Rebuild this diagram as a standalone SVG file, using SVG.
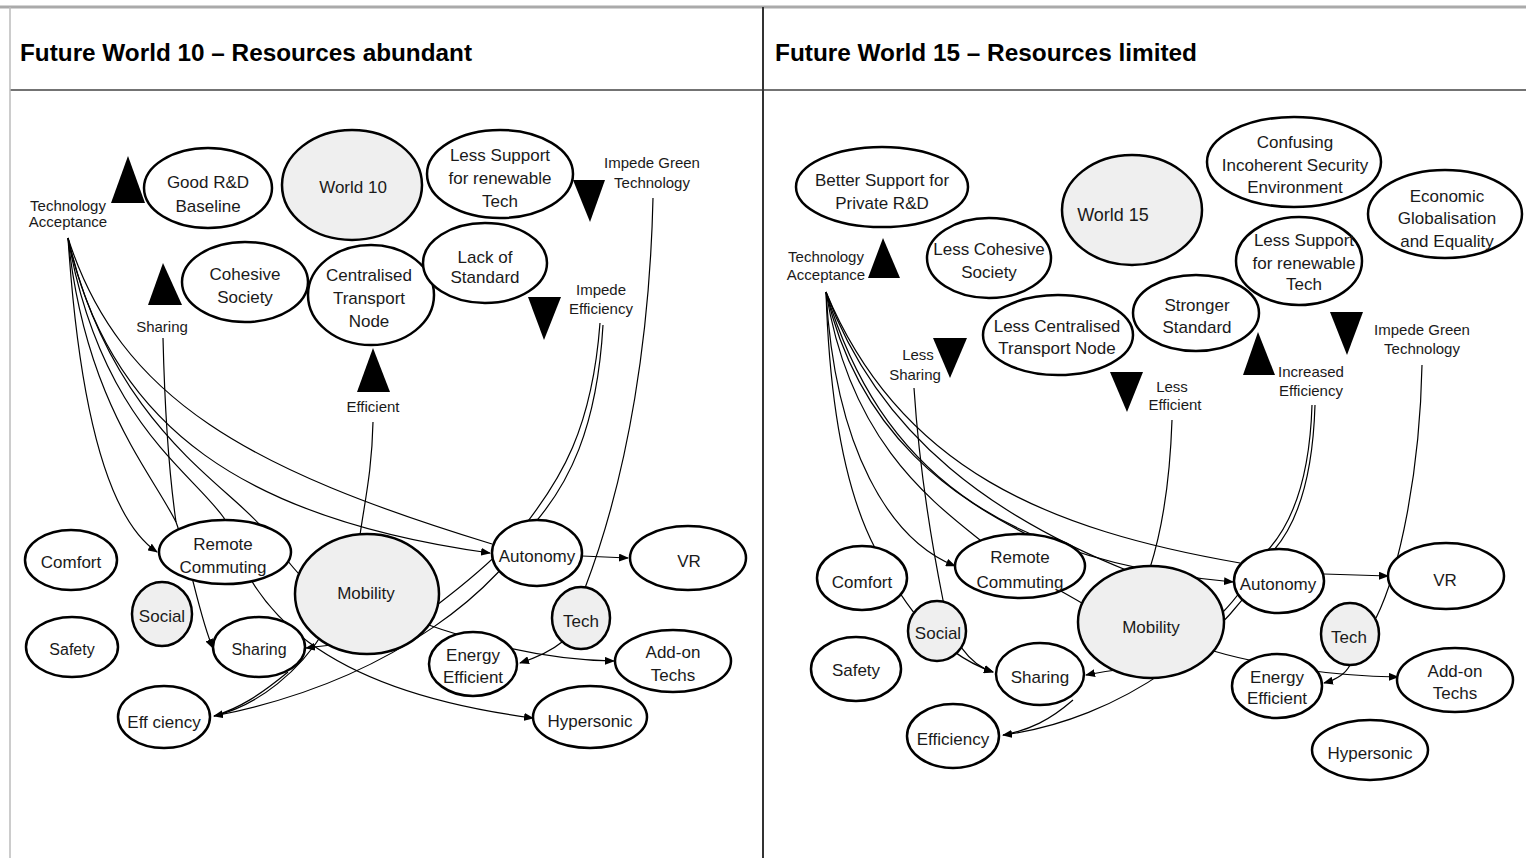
<svg xmlns="http://www.w3.org/2000/svg" width="1526" height="858" viewBox="0 0 1526 858">
<style>
.bg{fill:#fff}
.n{fill:#fff;stroke:#000;stroke-width:2.5}
.g{fill:#efefef;stroke:#000;stroke-width:2.5}
.t{font-family:"Liberation Sans",Arial,sans-serif;font-size:17px;text-anchor:middle;fill:#1a1a1a}
.l{font-family:"Liberation Sans",Arial,sans-serif;font-size:15px;text-anchor:middle;fill:#1a1a1a}
.h{font-family:"Liberation Sans",Arial,sans-serif;font-size:23px;font-weight:bold;fill:#000}
.c{fill:none;stroke:#000;stroke-width:1.2}
.a{marker-end:url(#arr)}
.tri{fill:#000}
</style>
<defs>
<marker id="arr" markerWidth="10" markerHeight="8" refX="9" refY="4" orient="auto" markerUnits="userSpaceOnUse"><path d="M0,0 L10,4 L0,8 z" fill="#000"/></marker>
</defs>
<rect class="bg" x="0" y="0" width="1526" height="858"/>
<g id="frame">
<line x1="0" y1="7" x2="1526" y2="7" stroke="#aaa" stroke-width="3"/>
<line x1="10" y1="90" x2="1526" y2="90" stroke="#444" stroke-width="1.5"/>
<line x1="763" y1="7" x2="763" y2="858" stroke="#333" stroke-width="2"/>
<line x1="10" y1="7" x2="10" y2="858" stroke="#bbb" stroke-width="1.5"/>
<text class="h" x="20" y="61" textLength="452" lengthAdjust="spacingAndGlyphs">Future World 10 – Resources abundant</text>
<text class="h" x="775" y="61" textLength="422" lengthAdjust="spacingAndGlyphs">Future World 15 – Resources limited</text>
</g>

<g id="connectors">
<!-- left panel -->
<path class="c a" d="M68,238 C80,420 110,520 157,552"/>
<path class="c a" d="M68,238 C85,400 150,470 176,522 C190,560 200,620 213,648"/>
<path class="c a" d="M68,238 C100,420 190,470 224,518 C250,610 320,690 533,718"/>
<path class="c" d="M68,238 C110,420 220,480 260,525 C275,545 290,565 300,575"/>
<path class="c a" d="M68,238 C110,430 250,520 490,553"/>
<path class="c" d="M68,238 C120,400 250,470 492,544"/>
<path class="c" d="M163,338 C165,420 170,480 176,522"/>
<path class="c" d="M373,422 C372,470 365,500 360,535"/>
<path class="c" d="M600,323 C592,430 560,480 525,525 C500,555 470,580 437,605"/>
<path class="c a" d="M603,325 C597,430 568,485 533,525 C505,580 400,680 214,716"/>
<path class="c" d="M653,198 C650,330 630,470 585,588"/>
<path class="c a" d="M562,642 C550,652 535,658 520,663"/>
<path class="c a" d="M420,622 C470,640 540,660 614,661"/>
<path class="c a" d="M582,556 L628,558"/>
<path class="c a" d="M380,640 C350,643 320,646 306,648"/>
<path class="c" d="M325,630 C300,670 260,705 214,716"/>
<path class="c" d="M288,672 C260,695 240,708 214,716"/>
<!-- right panel -->
<path class="c a" d="M826,292 C830,420 850,500 875,548 C895,590 930,650 993,672"/>
<path class="c a" d="M826,292 C835,450 890,540 955,566"/>
<path class="c" d="M826,292 C850,440 930,500 980,540 C1020,570 1060,590 1085,605"/>
<path class="c" d="M826,292 C860,440 960,500 1028,535"/>
<path class="c" d="M826,292 C880,440 1000,520 1131,572"/>
<path class="c" d="M826,292 C900,470 1050,530 1240,563"/>
<path class="c a" d="M826,292 C880,470 1000,560 1233,582"/>
<path class="c a" d="M914,388 C920,480 935,560 943,600 C950,640 970,665 993,672"/>
<path class="c" d="M1172,420 C1170,480 1162,530 1150,568"/>
<path class="c" d="M1312,405 C1310,470 1295,520 1268,550 C1250,580 1235,600 1222,613"/>
<path class="c a" d="M1315,405 C1313,470 1300,520 1274,550 C1230,640 1120,720 1003,735"/>
<path class="c" d="M1422,365 C1420,470 1400,570 1376,618"/>
<path class="c a" d="M1350,665 C1345,675 1335,680 1324,683"/>
<path class="c a" d="M1210,650 C1260,665 1330,676 1398,677"/>
<path class="c a" d="M1324,574 L1388,576"/>
<path class="c a" d="M1150,668 C1120,668 1100,672 1086,675"/>
<path class="c" d="M1073,700 C1050,720 1030,730 1003,735"/>
</g>

<!-- left panel nodes -->
<g id="l-tech-acceptance"><text class="l" x="68" y="211">Technology</text><text class="l" x="68" y="227">Acceptance</text><polygon class="tri" points="128,156 111,203 145,203"/></g>
<g id="l-good-rd"><ellipse class="n" cx="208" cy="188" rx="64" ry="40"/><text class="t" x="208" y="188">Good R&amp;D</text><text class="t" x="208" y="212">Baseline</text></g>
<g id="l-world10"><ellipse class="g" cx="352" cy="185" rx="70" ry="55"/><text class="t" x="353" y="193">World 10</text></g>
<g id="l-less-support"><ellipse class="n" cx="500" cy="174" rx="73" ry="44"/><text class="t" x="500" y="161">Less Support</text><text class="t" x="500" y="184">for renewable</text><text class="t" x="500" y="207">Tech</text></g>
<g id="l-impede-green"><polygon class="tri" points="573,180 605,180 590,222"/><text class="l" x="652" y="168">Impede Green</text><text class="l" x="652" y="188">Technology</text></g>
<g id="l-cohesive"><ellipse class="n" cx="245" cy="282" rx="63" ry="40"/><text class="t" x="245" y="280">Cohesive</text><text class="t" x="245" y="303">Society</text></g>
<g id="l-sharing-label"><polygon class="tri" points="163,263 148,305 182,305"/><text class="l" x="162" y="332">Sharing</text></g>
<g id="l-centralised"><ellipse class="n" cx="371" cy="295" rx="63" ry="50"/><text class="t" x="369" y="281">Centralised</text><text class="t" x="369" y="304">Transport</text><text class="t" x="369" y="327">Node</text></g>
<g id="l-lack-standard"><ellipse class="n" cx="485" cy="263" rx="62" ry="40"/><text class="t" x="485" y="263">Lack of</text><text class="t" x="485" y="283">Standard</text></g>
<g id="l-impede-eff"><polygon class="tri" points="528,297 561,297 544,340"/><text class="l" x="601" y="295">Impede</text><text class="l" x="601" y="314">Efficiency</text></g>
<g id="l-efficient"><polygon class="tri" points="373,348 357,392 390,392"/><text class="l" x="373" y="412">Efficient</text></g>
<g id="l-comfort"><ellipse class="n" cx="71" cy="560" rx="46" ry="30"/><text class="t" x="71" y="568">Comfort</text></g>
<g id="l-safety"><ellipse class="n" cx="72" cy="647" rx="46" ry="30"/><text class="t" x="72" y="655" style="font-size:16px">Safety</text></g>
<g id="l-remote"><ellipse class="n" cx="225" cy="552" rx="66" ry="32"/><text class="t" x="223" y="550">Remote</text><text class="t" x="223" y="573">Commuting</text></g>
<g id="l-social"><ellipse class="g" cx="162" cy="614" rx="30" ry="32"/><text class="t" x="162" y="622">Social</text></g>
<g id="l-sharing"><ellipse class="n" cx="259" cy="647" rx="46" ry="30"/><text class="t" x="259" y="655" style="font-size:16px">Sharing</text></g>
<g id="l-efficiency"><ellipse class="n" cx="164" cy="717" rx="46" ry="31"/><text class="t" x="164" y="728">Eff ciency</text></g>
<g id="l-mobility"><ellipse class="g" cx="367" cy="594" rx="72" ry="60"/><text class="t" x="366" y="599">Mobility</text></g>
<g id="l-autonomy"><ellipse class="n" cx="537" cy="553" rx="45" ry="33"/><text class="t" x="537" y="562">Autonomy</text></g>
<g id="l-vr"><ellipse class="n" cx="688" cy="558" rx="58" ry="32"/><text class="t" x="689" y="567">VR</text></g>
<g id="l-tech"><ellipse class="g" cx="581" cy="618" rx="29" ry="31"/><text class="t" x="581" y="627">Tech</text></g>
<g id="l-energy"><ellipse class="n" cx="473" cy="664" rx="44" ry="32"/><text class="t" x="473" y="661">Energy</text><text class="t" x="473" y="683">Efficient</text></g>
<g id="l-addon"><ellipse class="n" cx="673" cy="661" rx="58" ry="31"/><text class="t" x="673" y="658">Add-on</text><text class="t" x="673" y="681">Techs</text></g>
<g id="l-hypersonic"><ellipse class="n" cx="590" cy="717" rx="57" ry="31"/><text class="t" x="590" y="727">Hypersonic</text></g>

<!-- right panel nodes -->
<g id="r-better-support"><ellipse class="n" cx="882" cy="187" rx="86" ry="40"/><text class="t" x="882" y="186">Better Support for</text><text class="t" x="882" y="209">Private R&amp;D</text></g>
<g id="r-tech-acceptance"><text class="l" x="826" y="262">Technology</text><text class="l" x="826" y="280">Acceptance</text><polygon class="tri" points="883,238 868,278 900,278"/></g>
<g id="r-less-cohesive"><ellipse class="n" cx="989" cy="258" rx="62" ry="40"/><text class="t" x="989" y="255">Less Cohesive</text><text class="t" x="989" y="278">Society</text></g>
<g id="r-world15"><ellipse class="g" cx="1132" cy="210" rx="70" ry="55"/><text class="t" x="1113" y="221" style="font-size:18px">World 15</text></g>
<g id="r-confusing"><ellipse class="n" cx="1294" cy="162" rx="87" ry="45"/><text class="t" x="1295" y="148">Confusing</text><text class="t" x="1295" y="171">Incoherent Security</text><text class="t" x="1295" y="193">Environment</text></g>
<g id="r-economic"><ellipse class="n" cx="1445" cy="214" rx="77" ry="44"/><text class="t" x="1447" y="202">Economic</text><text class="t" x="1447" y="224">Globalisation</text><text class="t" x="1447" y="247">and Equality</text></g>
<g id="r-less-support"><ellipse class="n" cx="1299" cy="261" rx="63" ry="44"/><text class="t" x="1304" y="246">Less Support</text><text class="t" x="1304" y="269">for renewable</text><text class="t" x="1304" y="290">Tech</text></g>
<g id="r-stronger"><ellipse class="n" cx="1196" cy="313" rx="63" ry="38"/><text class="t" x="1197" y="311">Stronger</text><text class="t" x="1197" y="333">Standard</text></g>
<g id="r-less-centralised"><ellipse class="n" cx="1058" cy="335" rx="75" ry="40"/><text class="t" x="1057" y="332">Less Centralised</text><text class="t" x="1057" y="354">Transport Node</text></g>
<g id="r-less-sharing"><polygon class="tri" points="933,338 967,338 950,378"/><text class="l" x="918" y="360">Less</text><text class="l" x="915" y="380">Sharing</text></g>
<g id="r-less-efficient"><polygon class="tri" points="1110,372 1143,372 1127,412"/><text class="l" x="1172" y="392">Less</text><text class="l" x="1175" y="410">Efficient</text></g>
<g id="r-increased"><polygon class="tri" points="1258,332 1243,375 1275,375"/><text class="l" x="1311" y="377">Increased</text><text class="l" x="1311" y="396">Efficiency</text></g>
<g id="r-impede-green"><polygon class="tri" points="1330,312 1363,312 1347,355"/><text class="l" x="1422" y="335">Impede Green</text><text class="l" x="1422" y="354">Technology</text></g>
<g id="r-comfort"><ellipse class="n" cx="862" cy="578" rx="45" ry="32"/><text class="t" x="862" y="588">Comfort</text></g>
<g id="r-safety"><ellipse class="n" cx="856" cy="669" rx="45" ry="32"/><text class="t" x="856" y="676">Safety</text></g>
<g id="r-social"><ellipse class="g" cx="937" cy="631" rx="29" ry="30"/><text class="t" x="938" y="639">Social</text></g>
<g id="r-remote"><ellipse class="n" cx="1020" cy="566" rx="65" ry="32"/><text class="t" x="1020" y="563">Remote</text><text class="t" x="1020" y="588">Commuting</text></g>
<g id="r-sharing"><ellipse class="n" cx="1040" cy="674" rx="44" ry="31"/><text class="t" x="1040" y="683">Sharing</text></g>
<g id="r-efficiency"><ellipse class="n" cx="953" cy="736" rx="46" ry="32"/><text class="t" x="953" y="745">Efficiency</text></g>
<g id="r-mobility"><ellipse class="g" cx="1151" cy="622" rx="73" ry="56"/><text class="t" x="1151" y="633">Mobility</text></g>
<g id="r-autonomy"><ellipse class="n" cx="1279" cy="581" rx="45" ry="32"/><text class="t" x="1278" y="590">Autonomy</text></g>
<g id="r-vr"><ellipse class="n" cx="1446" cy="576" rx="58" ry="33"/><text class="t" x="1445" y="586">VR</text></g>
<g id="r-tech"><ellipse class="g" cx="1350" cy="634" rx="29" ry="31"/><text class="t" x="1349" y="643">Tech</text></g>
<g id="r-energy"><ellipse class="n" cx="1277" cy="686" rx="45" ry="32"/><text class="t" x="1277" y="683">Energy</text><text class="t" x="1277" y="704">Efficient</text></g>
<g id="r-addon"><ellipse class="n" cx="1455" cy="680" rx="58" ry="32"/><text class="t" x="1455" y="677">Add-on</text><text class="t" x="1455" y="699">Techs</text></g>
<g id="r-hypersonic"><ellipse class="n" cx="1370" cy="750" rx="58" ry="30"/><text class="t" x="1370" y="759">Hypersonic</text></g>
</svg>
